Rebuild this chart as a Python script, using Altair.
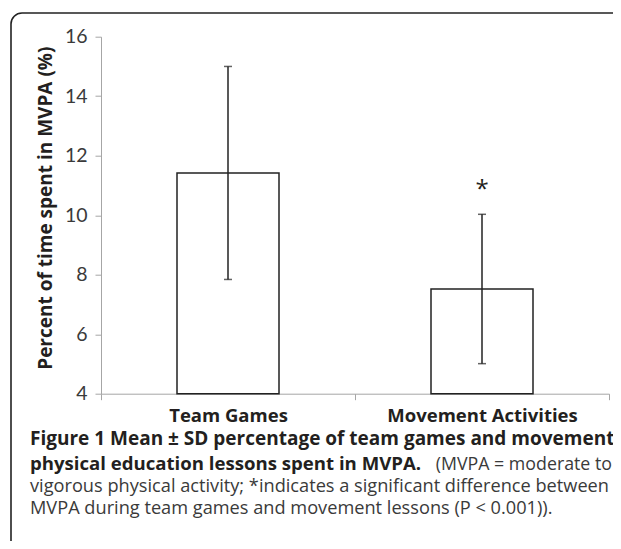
import altair as alt
import pandas as pd

categories = ["Team Games", "Movement Activities"]
means = [11.42, 7.52]
sds = [3.58, 2.51]
sig_marks = ["", "*"]
sig_y = [None, 11.0]

y_ticks = [4, 6, 8, 10, 12, 14, 16]
y_title = "Percent of time spent in MVPA (%)"

caption_l1 = "Figure 1 Mean \u00b1 SD percentage of team games and movement"
caption_l2_bold = "physical education lessons spent in MVPA."
caption_l2_reg = "(MVPA = moderate to"
caption_l3 = "vigorous physical activity; *indicates a significant difference between"
caption_l4 = "MVPA during team games and movement lessons (P < 0.001))."

df = pd.DataFrame({
    "cat": categories,
    "mean": means,
    "lo": [m - s for m, s in zip(means, sds)],
    "hi": [m + s for m, s in zip(means, sds)],
})
sig_df = pd.DataFrame({"cat": categories, "mark": sig_marks, "ypos": sig_y}).dropna()

BOLD = "Open Sans"
INK = "#231f20"
AX = "#a6a6a6"

x_enc = alt.X("cat:N", sort=categories, title=None,
              scale=alt.Scale(paddingInner=0, paddingOuter=0),
              axis=alt.Axis(labelAngle=0, tickBand="extent", domainColor=AX, tickColor=AX,
                            tickSize=6, labelFont=BOLD, labelFontWeight="bold", labelLimit=0,
                            labelFontSize=18.5, labelColor=INK, labelPadding=7, grid=False))
y_scale = alt.Scale(domain=[4, 16], nice=False, zero=False)
y_axis = alt.Axis(values=y_ticks, domainColor=AX, tickColor=AX, tickSize=6, labelPadding=8,
                  labelFont="Lato", labelFontSize=19.5, labelColor="#3a3a3a", grid=False,
                  title=y_title, titleFont=BOLD, titleFontWeight="bold", titleFontSize=19,
                  titleColor=INK, titleX=-56, titleY=171, titleAngle=-90,
                  titleAlign="center", titleBaseline="middle")

base = alt.Chart(df)
bars = base.mark_bar(size=102, fill="white", stroke="#222222", strokeWidth=1.5).encode(
    x=x_enc,
    y=alt.Y("mean:Q", scale=y_scale, axis=y_axis),
    y2=alt.datum(4),
)
rules = base.mark_rule(color="#222222", strokeWidth=1.5).encode(
    x=alt.X("cat:N", sort=categories), y="lo:Q", y2="hi:Q")
cap_lo = base.mark_tick(color="#222222", size=8, thickness=1.5).encode(
    x=alt.X("cat:N", sort=categories), y="lo:Q")
cap_hi = base.mark_tick(color="#222222", size=8, thickness=1.5).encode(
    x=alt.X("cat:N", sort=categories), y="hi:Q")
star = alt.Chart(sig_df).mark_text(font=BOLD, fontSize=24, color=INK, baseline="middle", dy=5).encode(
    x=alt.X("cat:N", sort=categories), y="ypos:Q", text="mark:N")

one = pd.DataFrame({"t": [0]})
frame = alt.Chart(one).mark_rect(fillOpacity=0, stroke="#222222", strokeWidth=1.6, cornerRadius=11).encode(
    x=alt.value(-90), x2=alt.value(560), y=alt.value(-23.7), y2=alt.value(560))


def line(txt, x, y, size, bold, align="left"):
    return alt.Chart(pd.DataFrame({"t": [txt]})).mark_text(
        font=BOLD, fontSize=size, fontWeight="bold" if bold else "normal",
        color=INK if bold else "#3a3a3a", align=align, baseline="alphabetic").encode(
        text="t:N", x=alt.value(x), y=alt.value(y))


caps = [
    line(caption_l1, -71, 408.5, 19, True),
    line(caption_l2_bold, -71, 433.5, 18.6, True),
    line(caption_l2_reg, 511, 433.5, 17.8, False, "right"),
    line(caption_l3, -71, 455.5, 18.2, False),
    line(caption_l4, -71, 477.5, 18.2, False),
]

chart = alt.layer(frame, bars, rules, cap_lo, cap_hi, star, *caps).properties(
    width=508, height=357, autosize="none",
    padding={"left": 93, "top": 28.7, "right": 4, "bottom": 147.3},
).configure_view(stroke=None)

chart.save("out.html", embed_options={"renderer": "svg", "actions": False})
